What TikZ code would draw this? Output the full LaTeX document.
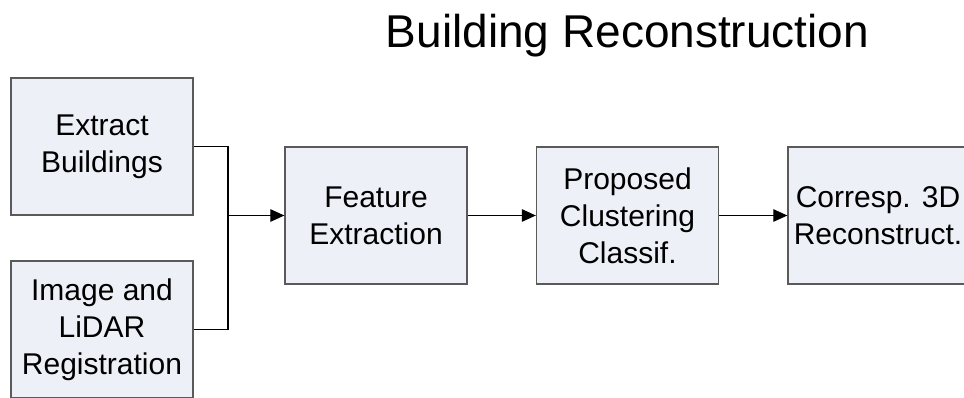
\documentclass[tikz,border=0pt]{standalone}
\usepackage{fontspec}
\setmainfont{Liberation Sans}
\usetikzlibrary{arrows.meta}
\definecolor{boxfill}{HTML}{EDF0F6}
\definecolor{boxline}{HTML}{5A5A5A}
\tikzset{
  boxfont/.style={font=\fontsize{30}{37}\selectfont, align=center},
  stepbox/.style={draw=boxline, fill=boxfill, line width=1.3pt, minimum width=182pt, minimum height=137pt, inner sep=0pt, boxfont},
  conn/.style={draw=black, line width=1.1pt},
  arr/.style={conn, -{Triangle[length=14pt,width=12.5pt]}}
}
\begin{document}
\begin{tikzpicture}[x=1pt,y=-1pt]
\useasboundingbox (0,0) rectangle (964,397);
\clip (0,0) rectangle (964,397);
\node[anchor=base, font=\fontsize{46}{52}\selectfont] (title) at (627.5,47) {Building Reconstruction};
\node[stepbox] (b1) at (102,146.5) {Extract\\Buildings};
\node[stepbox] (b2) at (102,329.5) {Image and\\LiDAR\\Registration};
\node[stepbox] (fe) at (376,215.5) {Feature\\Extraction};
\node[stepbox] (pc) at (627.5,215.5) {Proposed\\Clustering\\Classif.};
\node[stepbox, minimum width=222pt, label={[boxfont, xshift=-21pt]center:{Corresp. 3D\\Reconstruct.}}] (cr) at (899,215.5) {};
\coordinate (j) at (228,215.5);
\draw[conn] (b1.east) -| (j);
\draw[conn] (b2.east) -| (j);
\draw[arr] (j) -- (fe.west);
\draw[arr] (fe.east) -- (pc.west);
\draw[arr] (pc.east) -- (cr.west);
\end{tikzpicture}
\end{document}
